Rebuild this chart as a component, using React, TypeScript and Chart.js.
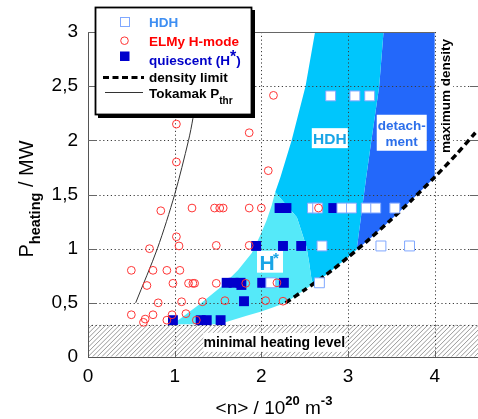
import React, { useEffect, useRef } from 'react';
import { Chart, registerables } from 'chart.js';

Chart.register(...registerables);

const FONT = "Arial, 'Liberation Sans', Helvetica, sans-serif";

// ---------- axes ----------
const xRange = [0, 4.5];
const yRange = [0, 3];
const xTickValues = [0, 1, 2, 3, 4];
const yTickValues = [0, 0.5, 1, 1.5, 2, 2.5, 3];
const minimalHeatingLevel = 0.3;

// ---------- measured points ----------
const hdhX = [2.80, 3.08, 3.25, 2.59, 2.65, 2.93, 3.04, 3.21, 3.32, 3.54, 2.70, 3.38, 3.71, 2.67, 2.11];
const hdhY = [2.41, 2.41, 2.41, 1.375, 1.375, 1.375, 1.375, 1.375, 1.375, 1.375, 1.025, 1.025, 1.025, 0.685, 0.685];

const elmyX = [1.02, 1.86, 2.14, 1.02, 2.08, 0.84, 1.20, 1.46, 1.52, 1.56, 1.86, 2.00, 2.66,
  1.02, 1.05, 0.71, 1.48, 1.86, 0.50, 0.75, 0.91, 1.06, 0.68, 0.98, 1.16, 1.21, 1.23, 1.48, 1.82, 2.18,
  0.81, 1.08, 1.32, 1.58, 2.05, 2.25, 0.50, 0.75, 0.97, 1.13, 0.66, 0.64, 0.91, 1.25];
const elmyY = [2.15, 2.07, 2.415, 1.80, 1.72, 1.35, 1.375, 1.375, 1.375, 1.375, 1.375, 1.375, 1.375,
  1.11, 1.025, 1.00, 1.03, 1.03, 0.80, 0.80, 0.80, 0.80, 0.66, 0.68, 0.68, 0.68, 0.68, 0.68, 0.68, 0.685,
  0.50, 0.51, 0.51, 0.52, 0.52, 0.515, 0.39, 0.39, 0.39, 0.40, 0.35, 0.32, 0.34, 0.34];

const quiescentX = [2.21, 2.29, 2.83, 1.94, 2.25, 2.46, 1.60, 1.68, 1.76, 1.77, 2.01, 2.26, 1.80, 0.98, 1.30, 1.37, 1.53];
const quiescentY = [1.375, 1.375, 1.375, 1.025, 1.025, 1.025, 0.685, 0.685, 0.685, 0.665, 0.685, 0.685, 0.515, 0.34, 0.34, 0.34, 0.34];

// ---------- curves ----------
const densityLimitX = [2.28, 2.50, 2.75, 3.00, 3.25, 3.50, 3.75, 4.00, 4.25, 4.47];
const densityLimitY = [0.50, 0.62, 0.76, 0.92, 1.09, 1.27, 1.46, 1.66, 1.87, 2.07];

const tokamakX = [0.55, 0.80, 1.00, 1.16, 1.21, 1.27];
const tokamakY = [0.50, 1.00, 1.50, 2.00, 2.20, 2.50];

// ---------- operating regions (polygons) ----------
const hStarRegionX = [0.92, 1.50, 1.83, 2.00, 2.14, 2.28, 2.50, 2.60, 2.58, 2.55, 2.52, 2.41, 2.16,
  2.12, 2.06, 1.98, 1.89, 1.73, 1.54, 1.31, 1.04];
const hStarRegionY = [0.30, 0.30, 0.38, 0.42, 0.46, 0.50, 0.62, 0.675, 0.71, 0.88, 1.02, 1.29, 1.52,
  1.40, 1.26, 1.11, 0.96, 0.80, 0.65, 0.50, 0.34];

const hdhRegionX = [2.16, 2.22, 2.35, 2.51, 2.62, 3.41, 3.36, 3.27, 3.21, 3.10, 3.00, 2.75, 2.60, 2.58, 2.55, 2.52, 2.41];
const hdhRegionY = [1.52, 1.66, 2.00, 2.50, 3.00, 3.00, 2.50, 2.00, 1.66, 0.99, 0.92, 0.76, 0.675, 0.71, 0.88, 1.02, 1.29];

const detachRegionX = [3.41, 4.00, 4.00, 3.75, 3.50, 3.25, 3.10, 3.21, 3.27, 3.36];
const detachRegionY = [3.00, 3.00, 1.66, 1.46, 1.27, 1.09, 0.99, 1.66, 2.00, 2.50];

const C_HSTAR = '#55E9F9';
const C_HDH = '#00C6FC';
const C_DET = '#2368FA';
const C_Q = '#0000CC';
const C_RED = '#FF3535';
const C_HDHMARK = '#80A8FF';

type Piece = { t: string; f: string; dy?: number; c?: string };
function drawRich(ctx: CanvasRenderingContext2D, x: number, y: number, pieces: Piece[], align: 'left' | 'center' = 'left') {
  ctx.textBaseline = 'alphabetic';
  ctx.textAlign = 'left';
  let w = 0;
  for (const p of pieces) { ctx.font = p.f; w += ctx.measureText(p.t).width; }
  let cx = align === 'center' ? x - w / 2 : x;
  for (const p of pieces) {
    ctx.font = p.f;
    ctx.fillStyle = p.c || '#000';
    ctx.fillText(p.t, cx, y + (p.dy || 0));
    cx += ctx.measureText(p.t).width;
  }
}

const overlayPlugin = {
  id: 'overlay',
  beforeDatasetsDraw(chart: any) {
    const { ctx, chartArea: a } = chart;
    const X = (v: number) => chart.scales.x.getPixelForValue(v);
    const Y = (v: number) => chart.scales.y.getPixelForValue(v);
    ctx.save();
    // hatched band (minimal heating level)
    const yTop = Y(minimalHeatingLevel);
    ctx.fillStyle = '#fff';
    ctx.fillRect(a.left + 1, yTop, a.right - a.left - 1, a.bottom - yTop);
    ctx.save();
    ctx.beginPath();
    ctx.rect(a.left + 1, yTop, a.right - a.left - 1, a.bottom - yTop - 0.5);
    ctx.clip();
    ctx.strokeStyle = '#8c8c8c';
    ctx.lineWidth = 0.9;
    const h = a.bottom - yTop;
    ctx.beginPath();
    for (let k = a.left - h; k < a.right + h; k += 4.6) {
      ctx.moveTo(k, a.bottom);
      ctx.lineTo(k + h, yTop);
    }
    ctx.stroke();
    ctx.restore();

    // dotted grid
    ctx.strokeStyle = '#3c3c3c';
    ctx.lineWidth = 1;
    ctx.setLineDash([1.2, 2.6]);
    ctx.beginPath();
    for (const v of xTickValues) {
      if (v <= xRange[0]) continue;
      const px = Math.round(X(v)) + 0.5;
      ctx.moveTo(px, a.top); ctx.lineTo(px, a.bottom);
    }
    for (const v of yTickValues) {
      if (v <= yRange[0] || v >= yRange[1]) continue;
      const py = Math.round(Y(v)) + 0.5;
      ctx.moveTo(a.left, py); ctx.lineTo(a.right, py);
    }
    const pyh = Math.round(yTop) + 0.5;
    ctx.moveTo(a.left, pyh); ctx.lineTo(a.right, pyh);
    ctx.stroke();
    ctx.setLineDash([]);

    // inner tick marks + top frame
    ctx.strokeStyle = '#666';
    ctx.lineWidth = 1;
    ctx.beginPath();
    for (const v of yTickValues) {
      if (v <= yRange[0] || v >= yRange[1]) continue;
      const py = Math.round(Y(v)) + 0.5;
      ctx.moveTo(a.left, py); ctx.lineTo(a.left + 8, py);
      ctx.moveTo(a.right - 8, py); ctx.lineTo(a.right, py);
    }
    for (const v of xTickValues) {
      if (v <= xRange[0]) continue;
      const px = Math.round(X(v)) + 0.5;
      ctx.moveTo(px, a.bottom); ctx.lineTo(px, a.bottom - 6);
    }
    const pyt = Math.round(Y(yRange[1])) + 0.5;
    ctx.moveTo(a.left, pyt); ctx.lineTo(X(4), pyt);
    ctx.stroke();

    // label boxes
    const box = (cx: number, cy: number, w: number, hh: number) => {
      ctx.fillStyle = '#fff';
      ctx.fillRect(cx - w / 2, cy - hh / 2, w, hh);
    };
    // minimal heating level
    let cx = X(2.15), cy = Y(0.135);
    box(cx, cy, 142, 19);
    drawRich(ctx, cx, cy + 5, [{ t: 'minimal heating level', f: `bold 14px ${FONT}` }], 'center');
    // HDH
    cx = X(2.79); cy = Y(2.02);
    box(cx, cy, 36, 20);
    drawRich(ctx, cx, cy + 5.5, [{ t: 'HDH', f: `bold 15.5px ${FONT}`, c: '#19A5E6' }], 'center');
    // detachment
    cx = X(3.62); cy = Y(2.07);
    box(cx, cy, 50, 36);
    drawRich(ctx, cx, cy - 3, [{ t: 'detach-', f: `bold 13.5px ${FONT}`, c: '#2C6FEA' }], 'center');
    drawRich(ctx, cx, cy + 13, [{ t: 'ment', f: `bold 13.5px ${FONT}`, c: '#2C6FEA' }], 'center');
    // H*
    cx = X(2.10); cy = Y(0.88);
    box(cx, cy, 26, 22);
    drawRich(ctx, cx - 10.5, cy + 8.5, [{ t: 'H', f: `bold 21px ${FONT}`, c: '#19A5E6' }]);
    drawRich(ctx, cx + 3, cy + 1, [{ t: '*', f: `bold 15px ${FONT}`, c: '#19A5E6' }]);
    // maximum density
    ctx.save();
    ctx.translate(X(4.18), Y(2.41));
    ctx.rotate(-Math.PI / 2);
    ctx.fillStyle = '#fff';
    ctx.fillRect(-58, -11, 116, 14);
    drawRich(ctx, 0, 0, [{ t: 'maximum density', f: `bold 13.5px ${FONT}` }], 'center');
    ctx.restore();

    ctx.restore();
  },
  afterDraw(chart: any) {
    const { ctx } = chart;
    ctx.save();
    // legend
    ctx.fillStyle = '#000';
    ctx.fillRect(98, 10, 157, 108);
    ctx.fillStyle = '#fff';
    ctx.fillRect(95, 7, 157, 108);
    ctx.strokeStyle = '#000';
    ctx.lineWidth = 1.8;
    ctx.strokeRect(95.5, 7.5, 156, 107);
    // markers
    ctx.lineWidth = 1;
    ctx.fillStyle = '#fff';
    ctx.strokeStyle = C_HDHMARK;
    ctx.fillRect(120, 17.5, 9.5, 9.5);
    ctx.strokeRect(120.5, 17.5, 9, 9);
    ctx.strokeStyle = C_RED;
    ctx.beginPath(); ctx.arc(124.5, 40.7, 3.8, 0, Math.PI * 2); ctx.stroke();
    ctx.fillStyle = C_Q;
    ctx.fillRect(120, 51.5, 9.5, 9.5);
    ctx.strokeStyle = '#000';
    ctx.lineWidth = 3;
    ctx.setLineDash([6, 3.5]);
    ctx.beginPath(); ctx.moveTo(103, 77.5); ctx.lineTo(144, 77.5); ctx.stroke();
    ctx.setLineDash([]);
    ctx.lineWidth = 1;
    ctx.strokeStyle = '#333';
    ctx.beginPath(); ctx.moveTo(105, 92.5); ctx.lineTo(143, 92.5); ctx.stroke();
    const LF = `bold 13.5px ${FONT}`;
    drawRich(ctx, 149, 26.5, [{ t: 'HDH', f: LF, c: '#3D8EF2' }]);
    drawRich(ctx, 149, 45.5, [{ t: 'ELMy H-mode', f: LF, c: '#FF0000' }]);
    drawRich(ctx, 149, 65, [{ t: 'quiescent (H', f: LF, c: '#0000C8' }, { t: '*', f: `bold 16px ${FONT}`, dy: -3.5, c: '#0000C8' }, { t: ')', f: LF, c: '#0000C8' }]);
    drawRich(ctx, 149, 82, [{ t: 'density limit', f: LF }]);
    drawRich(ctx, 149, 97.5, [{ t: 'Tokamak P', f: LF }, { t: 'thr', f: `bold 10px ${FONT}`, dy: 6 }]);

    // x-axis title
    drawRich(ctx, 274, 414, [
      { t: '<n> / 10', f: `19px ${FONT}` },
      { t: '20', f: `bold 13px ${FONT}`, dy: -9 },
      { t: ' m', f: `19px ${FONT}` },
      { t: '-3', f: `bold 13px ${FONT}`, dy: -9 },
    ], 'center');
    // y-axis title
    ctx.save();
    ctx.translate(33, 199);
    ctx.rotate(-Math.PI / 2);
    drawRich(ctx, 0, 0, [
      { t: 'P', f: `20px ${FONT}` },
      { t: 'heating', f: `bold 14.5px ${FONT}`, dy: 6.5 },
      { t: ' / MW', f: `20px ${FONT}` },
    ], 'center');
    ctx.restore();
    ctx.restore();
  },
};

const pts = (xs: number[], ys: number[]) => xs.map((x, i) => ({ x, y: ys[i] }));

export default function App() {
  const ref = useRef<HTMLCanvasElement>(null);
  useEffect(() => {
    const canvas = ref.current!;
    const region = (label: string, xs: number[], ys: number[], color: string, order: number) => ({
      type: 'line' as const,
      label,
      data: pts(xs, ys),
      fill: 'shape',
      backgroundColor: color,
      borderWidth: 0,
      borderColor: 'rgba(0,0,0,0)',
      pointRadius: 0,
      tension: 0,
      order,
    });
    const chart = new Chart(canvas, {
      type: 'scatter',
      data: {
        datasets: [
          {
            type: 'scatter', label: 'ELMy H-mode', data: pts(elmyX, elmyY),
            pointStyle: 'circle', pointRadius: 3.9, borderWidth: 1,
            borderColor: C_RED, backgroundColor: 'rgba(0,0,0,0)', order: 1,
          },
          {
            type: 'scatter', label: 'HDH', data: pts(hdhX, hdhY),
            pointStyle: 'rect', pointRadius: 7, borderWidth: 1,
            borderColor: C_HDHMARK, backgroundColor: '#fff', order: 2,
          },
          {
            type: 'scatter', label: 'quiescent (H*)', data: pts(quiescentX, quiescentY),
            pointStyle: 'rect', pointRadius: 7, borderWidth: 0,
            borderColor: C_Q, backgroundColor: C_Q, order: 3,
          },
          {
            type: 'line', label: 'density limit', data: pts(densityLimitX, densityLimitY),
            borderColor: '#000', borderWidth: 3.5, borderDash: [6, 4], pointRadius: 0,
            fill: false, tension: 0.2, order: 4,
          },
          {
            type: 'line', label: 'Tokamak Pthr', data: pts(tokamakX, tokamakY),
            borderColor: '#333', borderWidth: 1, pointRadius: 0, fill: false, tension: 0.3, order: 5,
          },
          region('H* region', hStarRegionX, hStarRegionY, C_HSTAR, 10),
          region('HDH region', hdhRegionX, hdhRegionY, C_HDH, 11),
          region('detachment region', detachRegionX, detachRegionY, C_DET, 12),
        ] as any,
      },
      options: {
        responsive: false,
        animation: false,
        devicePixelRatio: 1,
        events: [],
        layout: { padding: { top: 32, left: 0, right: 0, bottom: 0 }, autoPadding: false },
        plugins: {
          legend: { display: false },
          tooltip: { enabled: false },
          title: { display: false },
          filler: { drawTime: 'beforeDatasetsDraw', propagate: false },
        },
        scales: {
          x: {
            type: 'linear', min: xRange[0], max: xRange[1], position: 'bottom',
            grid: { display: false, drawTicks: false },
            border: { display: true, color: '#555', width: 1 },
            ticks: {
              padding: 8, maxRotation: 0, autoSkip: false, color: '#000',
              font: { family: FONT, size: 19 },
              callback: (v: any) => String(v).replace('.', ','),
            },
            afterBuildTicks: (s: any) => { s.ticks = xTickValues.map((value) => ({ value })); },
            afterFit: (s: any) => { s.height = 62; },
          },
          y: {
            type: 'linear', min: yRange[0], max: yRange[1], position: 'left',
            grid: { display: false, drawTicks: false },
            border: { display: true, color: '#555', width: 1 },
            ticks: {
              padding: 10, color: '#000', autoSkip: false,
              font: { family: FONT, size: 19 },
              callback: (v: any) => String(v).replace('.', ','),
            },
            afterBuildTicks: (s: any) => { s.ticks = yTickValues.map((value) => ({ value })); },
            afterFit: (s: any) => { s.width = 88; },
          },
        },
      } as any,
      plugins: [overlayPlugin],
    });
    return () => chart.destroy();
  }, []);
  return (
    <div style={{ position: 'absolute', left: 0, top: 0, width: 478, height: 419, background: '#fff' }}>
      <canvas ref={ref} width={478} height={419} style={{ display: 'block', width: 478, height: 419 }} />
    </div>
  );
}
